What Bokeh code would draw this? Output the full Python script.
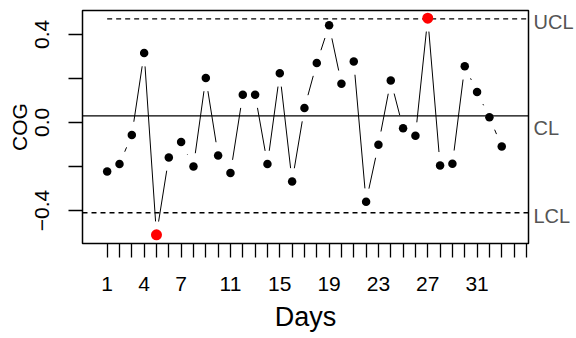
import math
from bokeh.plotting import figure
from bokeh.models import Range1d, FixedTicker, LinearAxis
from bokeh.embed import file_html
from bokeh.resources import INLINE

# ---- data ----
days = list(range(1, 34))
cog = [-0.223, -0.189, -0.057, 0.315, -0.510, -0.159, -0.089, -0.200, 0.202, -0.150,
       -0.230, 0.126, 0.126, -0.189, 0.223, -0.268, 0.065, 0.270, 0.441, 0.176,
       0.277, -0.360, -0.101, 0.190, -0.026, -0.060, 0.473, -0.195, -0.188, 0.255,
       0.138, 0.023, -0.109]
center_line = 0.03
ucl = 0.47
lcl = -0.41
x_ticks = list(range(1, 36))
x_tick_labels = [1, 4, 7, 11, 15, 19, 23, 27, 31]
y_ticks = [-0.4, -0.2, 0.0, 0.2, 0.4]
y_tick_labels = {-0.4: "\u22120.4", 0.0: "0.0", 0.4: "0.4"}
limit_names = ["UCL", "CL", "LCL"]

# ---- layout ----
FONT = "Liberation Sans"
W, H = 576, 338
BL, BR, BT, BB = 82, 48, 10, 95
frame_w = W - BL - BR
frame_h = H - BT - BB
x_start, x_end = -1.0, 35.17
y_start, y_end = -0.5495, 0.508

p = figure(width=W, height=H, output_backend="svg", toolbar_location=None,
           x_range=Range1d(x_start, x_end), y_range=Range1d(y_start, y_end),
           min_border_left=BL, min_border_right=BR, min_border_top=BT,
           min_border_bottom=BB)
p.background_fill_color = "white"
p.border_fill_color = "white"
p.grid.visible = False
p.outline_line_color = "black"
p.outline_line_width = 1.5

# axes
xa = p.xaxis[0]
xa.ticker = FixedTicker(ticks=x_ticks)
xa.major_label_overrides = {t: (str(t) if t in x_tick_labels else "") for t in x_ticks}
xa.axis_line_color = None
xa.major_tick_out = 14
xa.major_tick_in = 0
xa.minor_tick_line_color = None
xa.major_tick_line_width = 1.3
xa.major_label_text_font = FONT
xa.major_label_text_font_size = "21px"
xa.major_label_text_color = "black"
xa.major_label_standoff = 19
xa.axis_label = "Days"
xa.axis_label_text_font = FONT
xa.axis_label_text_font_size = "27px"
xa.axis_label_text_font_style = "normal"
xa.axis_label_text_color = "black"
xa.axis_label_standoff = 8

ya = p.yaxis[0]
ya.ticker = FixedTicker(ticks=y_ticks)
ya.major_label_overrides = {t: y_tick_labels.get(t, "") for t in y_ticks}
ya.axis_line_color = None
ya.major_tick_out = 14
ya.major_tick_in = 0
ya.minor_tick_line_color = None
ya.major_tick_line_width = 1.3
ya.major_label_orientation = "vertical"
ya.major_label_text_font = FONT
ya.major_label_text_font_size = "21px"
ya.major_label_text_color = "black"
ya.major_label_standoff = 19
ya.axis_label = "COG"
ya.axis_label_text_font = FONT
ya.axis_label_text_font_size = "21px"
ya.axis_label_text_font_style = "normal"
ya.axis_label_text_color = "black"
ya.axis_label_standoff = 2

kx = frame_w / (x_end - x_start)
ky = frame_h / (y_end - y_start)

# limit labels on the right (as a right-hand axis without ticks)
label_shift_px = {"UCL": 2.7, "CL": 12.0, "LCL": 3.5}
label_pos = [v - label_shift_px[n] / ky for n, v in zip(limit_names, [ucl, center_line, lcl])]
ra = LinearAxis(ticker=FixedTicker(ticks=label_pos),
                major_label_overrides={pos: n for pos, n in zip(label_pos, limit_names)})
ra.axis_line_color = None
ra.major_tick_line_color = None
ra.minor_tick_line_color = None
ra.major_tick_out = 0
ra.major_tick_in = 0
ra.major_label_standoff = 5
ra.major_label_text_font = FONT
ra.major_label_text_font_size = "20px"
ra.major_label_text_color = "#555555"
p.add_layout(ra, "right")

# control limits
p.line([x_start, x_end], [center_line, center_line], line_color="black", line_width=1.3)
p.line([days[0], x_end], [ucl, ucl], line_color="black", line_width=1.3, line_dash="5 4")
p.line([x_start, x_end], [lcl, lcl], line_color="black", line_width=1.3, line_dash="5 4")

# connecting lines with gaps around points (R type="b")
gap = 13.4
x0s, y0s, x1s, y1s = [], [], [], []
for i in range(len(days) - 1):
    dx = (days[i + 1] - days[i]) * kx
    dy = (cog[i + 1] - cog[i]) * ky
    L = math.hypot(dx, dy)
    if L <= 2 * gap:
        continue
    t = gap / L
    x0s.append(days[i] + t * (days[i + 1] - days[i]))
    y0s.append(cog[i] + t * (cog[i + 1] - cog[i]))
    x1s.append(days[i + 1] - t * (days[i + 1] - days[i]))
    y1s.append(cog[i + 1] - t * (cog[i + 1] - cog[i]))
p.segment(x0=x0s, y0=y0s, x1=x1s, y1=y1s, line_color="black", line_width=1)

# points
inside = [(d, v) for d, v in zip(days, cog) if lcl <= v <= ucl]
outside = [(d, v) for d, v in zip(days, cog) if not (lcl <= v <= ucl)]
p.scatter([d for d, _ in inside], [v for _, v in inside], size=8.5,
          fill_color="black", line_color=None)
p.scatter([d for d, _ in outside], [v for _, v in outside], size=11,
          fill_color="red", line_color=None)

open("out.html", "w").write(file_html(p, INLINE))
